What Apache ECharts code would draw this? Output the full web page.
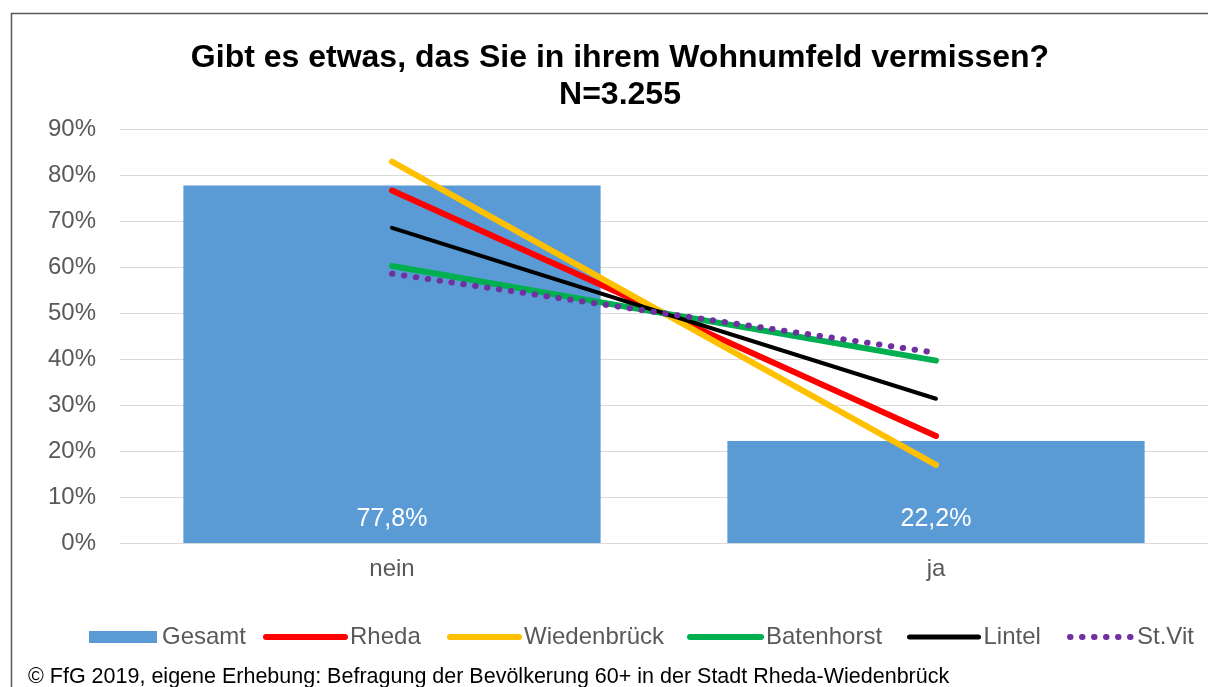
<!DOCTYPE html>
<html>
<head>
<meta charset="utf-8">
<script src="https://cdn.jsdelivr.net/npm/echarts@6/dist/echarts.min.js"></script>
<style>
  html, body { margin: 0; padding: 0; background: #ffffff; }
  #chart { width: 1208px; height: 687px; }
</style>
</head>
<body>
<div id="chart"></div>
<script>
// Answer categories
const categories = ['nein', 'ja'];

// Shares in percent
const gesamt       = [77.8, 22.2];
const rheda        = [76.7, 23.3];
const wiedenbrueck = [83.0, 17.0];
const batenhorst   = [60.3, 39.7];
const lintel       = [68.6, 31.4];
const stVit        = [58.6, 41.4];

// Value axis ticks
const yMin = 0, yMax = 90, yStep = 10;

const FONT = '"Liberation Sans", Arial, sans-serif';
const GREY = '#595959';
const DOTS = [0.5, 11.5];

const chart = echarts.init(document.getElementById('chart'), null, { renderer: 'canvas' });

function lineSeries(name, data, color, width, dash) {
  return {
    name: name,
    type: 'line',
    data: data,
    symbol: 'none',
    z: 3,
    lineStyle: { color: color, width: width, cap: 'round', type: dash || 'solid' },
    itemStyle: { color: color }
  };
}

// One legend per entry so each entry sits at its own spot
function legendItem(name, left, width, lineWidth, dash) {
  const lg = {
    data: [name],
    left: left,
    top: 625,
    itemWidth: width,
    itemHeight: 12,
    padding: 0,
    textStyle: { fontFamily: FONT, fontSize: 24, color: GREY },
    selectedMode: false
  };
  if (lineWidth) {
    lg.itemStyle = { opacity: 0 };
    lg.lineStyle = { width: lineWidth, cap: 'round', type: dash || 'solid' };
  } else {
    lg.icon = 'rect';
  }
  return lg;
}

chart.setOption({
  animation: false,
  backgroundColor: '#ffffff',
  textStyle: { fontFamily: FONT },
  title: {
    text: 'Gibt es etwas, das Sie in ihrem Wohnumfeld vermissen?\nN=3.255',
    left: 615,
    top: 35,
    textAlign: 'center',
    textStyle: { fontFamily: FONT, fontSize: 32, fontWeight: 'bold', color: '#000000', lineHeight: 37 }
  },
  grid: { left: 120, right: 0, top: 129.5, bottom: 144, containLabel: false },
  xAxis: {
    type: 'category',
    data: categories,
    boundaryGap: true,
    axisLine: { show: true, lineStyle: { color: '#d9d9d9', width: 1 } },
    axisTick: { show: false },
    axisLabel: { fontFamily: FONT, fontSize: 24, color: GREY, margin: 14 }
  },
  yAxis: {
    type: 'value',
    min: yMin, max: yMax, interval: yStep,
    axisLine: { show: false },
    axisTick: { show: false },
    splitLine: { lineStyle: { color: '#d9d9d9', width: 1 } },
    axisLabel: { fontFamily: FONT, fontSize: 24, color: GREY, margin: 24, formatter: '{value}%' }
  },
  legend: [
    legendItem('Gesamt', 89, 68),
    legendItem('Rheda', 263, 79, 6),
    legendItem('Wiedenbrück', 447, 69, 6),
    legendItem('Batenhorst', 687, 71, 6),
    legendItem('Lintel', 907, 69, 5),
    legendItem('St.Vit', 1067, 62, 6, DOTS)
  ],
  series: [
    {
      name: 'Gesamt',
      type: 'bar',
      data: gesamt,
      barWidth: '76.7%',
      itemStyle: { color: '#5b9bd5' },
      z: 2,
      label: {
        show: true,
        position: 'insideBottom',
        distance: 11,
        fontFamily: FONT,
        fontSize: 25,
        color: '#ffffff',
        formatter: p => p.value.toFixed(1).replace('.', ',') + '%'
      }
    },
    lineSeries('Rheda', rheda, '#ff0000', 6),
    lineSeries('Wiedenbrück', wiedenbrueck, '#ffc000', 6),
    lineSeries('Batenhorst', batenhorst, '#00b050', 6),
    lineSeries('Lintel', lintel, '#000000', 4),
    lineSeries('St.Vit', stVit, '#7030a0', 6, DOTS)
  ],
  graphic: [
    {
      type: 'rect',
      shape: { x: 11.5, y: 13.5, width: 1400, height: 900 },
      style: { fill: null, stroke: '#595959', lineWidth: 1.5 },
      silent: true
    },
    {
      type: 'text',
      left: 28,
      top: 666,
      style: {
        text: '© FfG 2019, eigene Erhebung: Befragung der Bevölkerung 60+ in der Stadt Rheda-Wiedenbrück',
        font: '21.5px ' + FONT,
        fill: '#000000'
      },
      silent: true
    }
  ]
});
</script>
</body>
</html>
